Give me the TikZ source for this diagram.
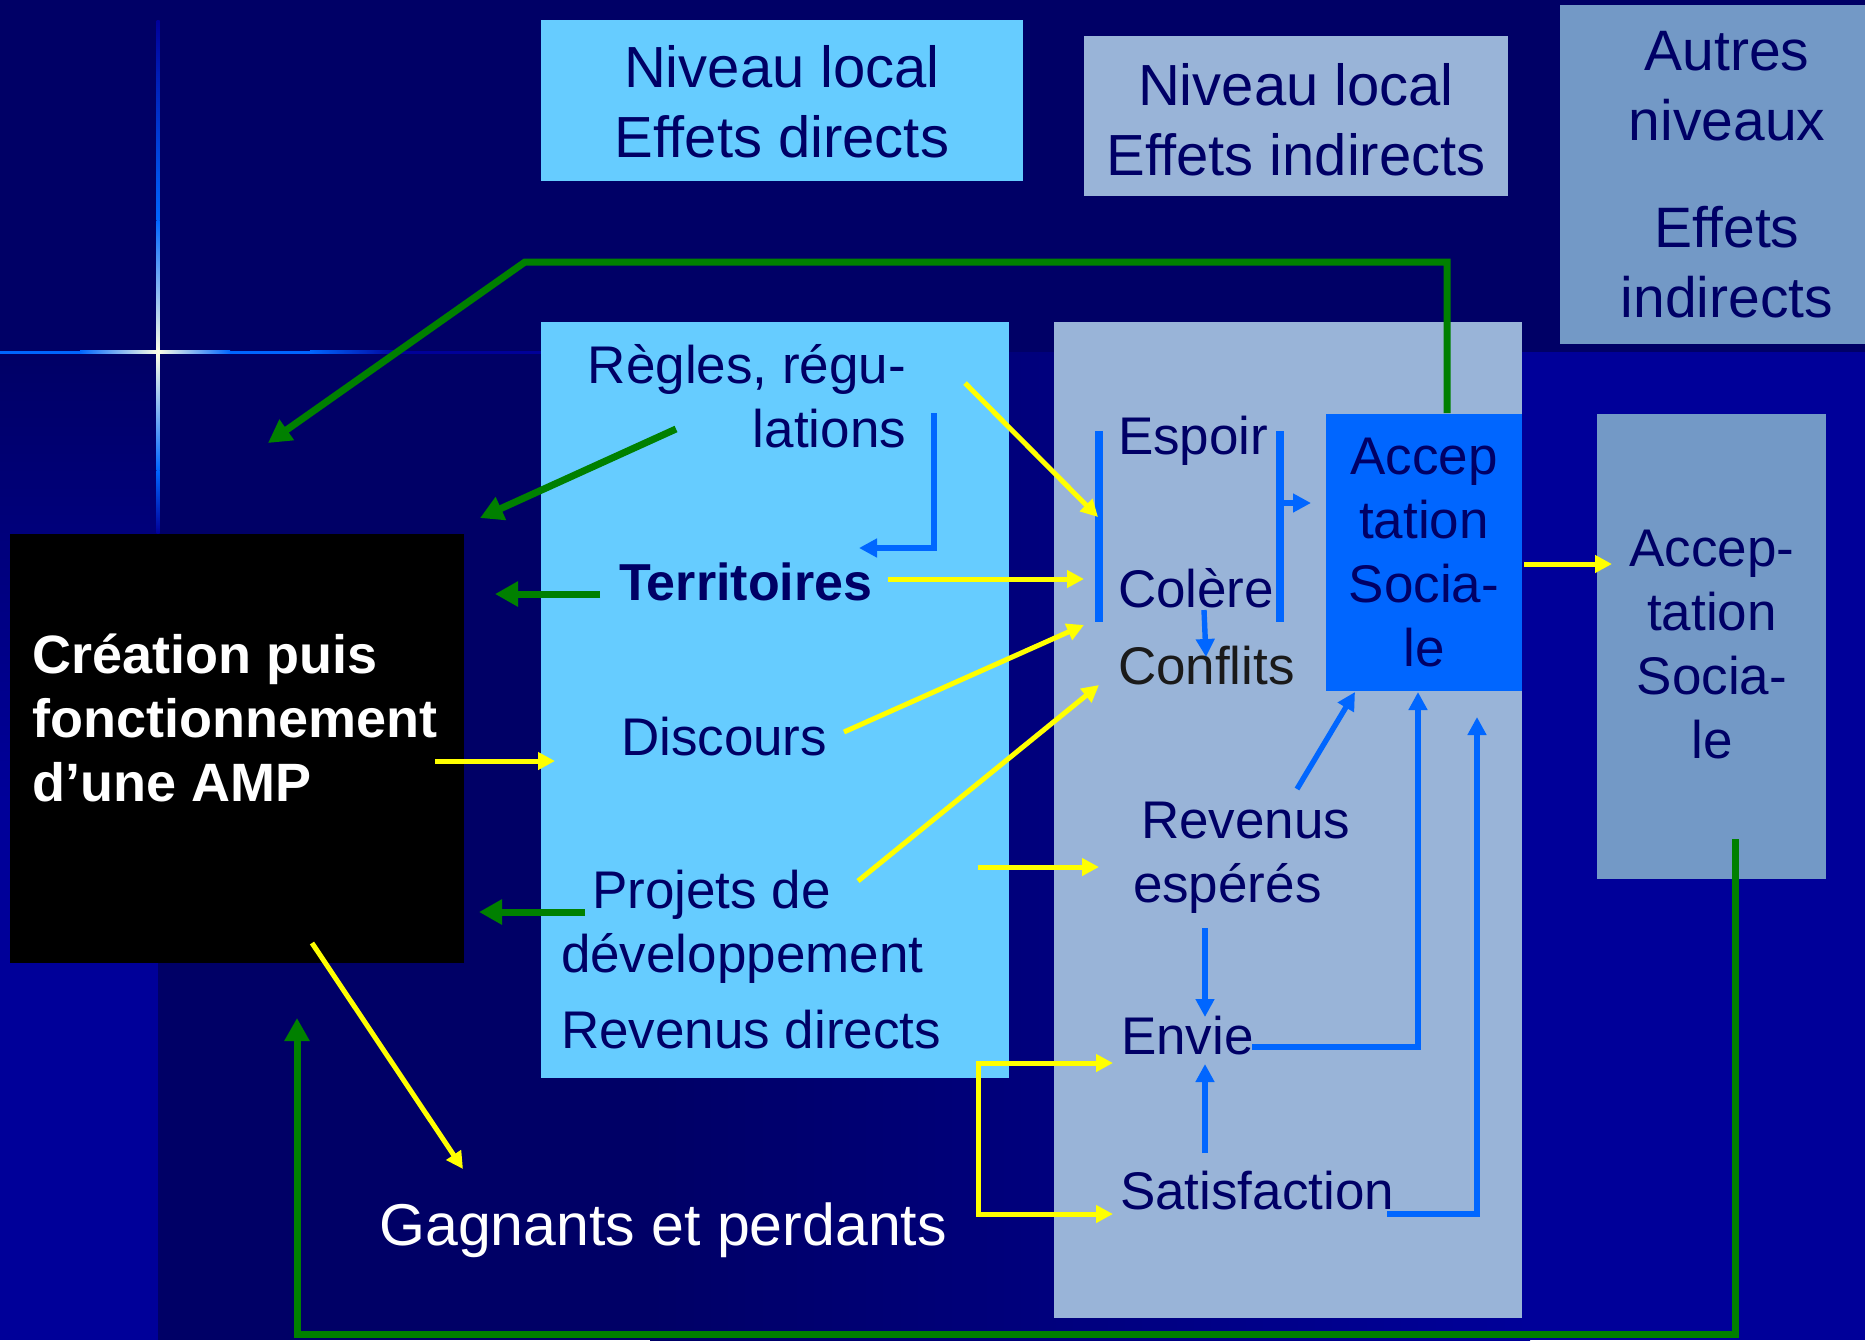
\documentclass[tikz,border=0pt]{standalone}
\usepackage{fontspec}
\setmainfont{Liberation Sans}
\usetikzlibrary{arrows.meta}
\definecolor{bgdark}{HTML}{000066}
\definecolor{bglight}{HTML}{000099}
\definecolor{lbfill}{HTML}{66CCFF}
\definecolor{grayfill}{HTML}{99B4D8}
\definecolor{midfill}{HTML}{7399C6}
\definecolor{accfill}{HTML}{0066FF}
\definecolor{grn}{HTML}{008000}
\definecolor{yel}{HTML}{FFFF00}
\definecolor{blu}{HTML}{0066FF}
\definecolor{navytext}{HTML}{000066}
\definecolor{darktext}{HTML}{1A1A1A}
\definecolor{starw}{HTML}{FFFFE6}
\newcommand\mlines[2]{\begin{tabular}[t]{@{}#1@{}}#2\end{tabular}}
\begin{document}
\begin{tikzpicture}[x=0.5pt,y=-0.5pt,
  box/.style={inner sep=0pt, outer sep=0pt, anchor=north west, draw=none},
  txt/.style={inner sep=0pt, outer sep=0pt, text=navytext, font=\fontsize{26.5}{32}\selectfont},
  toptxt/.style={inner sep=0pt, outer sep=0pt, text=navytext, font=\fontsize{29}{35}\selectfont},
  garr/.style={draw=grn, line width=3.5pt, -{Triangle[length=11.5pt,width=12pt]}},
  yarr/.style={draw=yel, line width=2.5pt, -{Triangle[length=8.5pt,width=8.5pt]}},
  yarrs/.style={draw=yel, line width=2.5pt, {Triangle[length=8.5pt,width=8.5pt]}-{Triangle[length=8.5pt,width=8.5pt]}},
  barr/.style={draw=blu, line width=2.7pt, -{Triangle[length=9pt,width=9pt]}},
  barline/.style={draw=blu, line width=4pt},
]
\useasboundingbox (0,0) rectangle (1865,1340);
% background
\fill[bgdark] (0,0) rectangle (1865,1340);
\shade[top color=bgdark, bottom color=bglight] (0,352) rectangle (158,800);
\fill[bglight] (0,800) rectangle (158,1340);
\shade[left color=bgdark, right color=bglight] (650,352) rectangle (1530,1340);
\fill[bglight] (1530,352) rectangle (1865,1340);
% star
\shade[top color=bglight, bottom color=blu] (156.5,20) rectangle (159.5,220);
\shade[top color=blu, bottom color=starw] (156.5,220) rectangle (159.5,352);
\shade[top color=starw, bottom color=blu] (156.5,352) rectangle (159.5,470);
\shade[top color=blu, bottom color=bglight] (156.5,470) rectangle (159.5,533);
\fill[blu] (0,350.5) rectangle (80,353.5);
\shade[left color=blu, right color=starw] (80,350.5) rectangle (158,353.5);
\shade[left color=starw, right color=blu] (158,350.5) rectangle (230,353.5);
\fill[blu] (230,350.5) rectangle (310,353.5);
\shade[left color=blu, right color=bglight] (310,350.5) rectangle (400,353.5);
\fill[bglight] (400,350.5) rectangle (541,353.5);

% boxes
\node[box, fill=lbfill, minimum width=241pt, minimum height=80.5pt] (top1) at (541,20) {};
\node[box, fill=grayfill, minimum width=212pt, minimum height=80pt] (top2) at (1084,36) {};
\node[box, fill=midfill, minimum width=152.5pt, minimum height=169.5pt] (top3) at (1560,5) {};
\node[box, fill=lbfill, minimum width=234pt, minimum height=378pt] (direct) at (541,322) {};
\node[box, fill=grayfill, minimum width=234pt, minimum height=498pt] (indirect) at (1054,322) {};
\node[box, fill=accfill, minimum width=98pt, minimum height=138.5pt] (acc) at (1326,414) {};
\node[box, fill=midfill, minimum width=114.5pt, minimum height=232.5pt] (accr) at (1597,414) {};
\node[box, fill=black, minimum width=227pt, minimum height=214.5pt] (amp) at (10,534) {};

% box titles
\node[toptxt, anchor=base] (t1) at (782,87) {\mlines{c}{Niveau local\\Effets directs}};
\node[toptxt, anchor=base] (t2) at (1296,105) {\mlines{c}{Niveau local\\Effets indirects}};
\node[inner sep=0pt, text=navytext, font=\fontsize{28.5}{35}\selectfont, anchor=base] (t3) at (1727,70)
  {\mlines{c}{Autres\\niveaux\\[18.5pt]Effets\\indirects}};

% texts
\node[inner sep=0pt, text=white, font=\bfseries\fontsize{27}{32}\selectfont, anchor=base west] (ampt) at (32,673)
  {\mlines{l}{Création puis\\fonctionnement\\d’une AMP}};
\node[txt, anchor=base east] (regles) at (906,383) {\mlines{r}{Règles, régu-\\lations}};
\node[txt, font=\bfseries\fontsize{26}{32}\selectfont, anchor=base west] (terr) at (619,600) {Territoires};
\node[txt, anchor=base west] (disc) at (621,755) {Discours};
\node[txt, anchor=base west] (proj) at (561,908) {\mlines{l}{\hspace{15.5pt}Projets de\\développement\\[6pt]Revenus directs}};
\node[inner sep=0pt, text=white, font=\fontsize{29.5}{35}\selectfont, anchor=base west] (gagn) at (379,1245) {Gagnants et perdants};
\node[txt, anchor=base west] (espoir) at (1118,454) {Espoir};
\node[txt, anchor=base west] (colere) at (1118,607) {Colère};
\node[txt, text=darktext, anchor=base west] (confl) at (1118,684) {Conflits};
\node[txt, anchor=base west] (reves) at (1133,838) {\mlines{l}{\hspace{4pt}Revenus\\espérés}};
\node[txt, anchor=base west] (envie) at (1121,1054) {Envie};
\node[txt, anchor=base west] (satis) at (1120,1209) {Satisfaction};
\node[txt, anchor=base] (acct) at (1424,474) {\mlines{c}{Accep\\tation\\Socia-\\le}};
\node[txt, anchor=base] (accrt) at (1712,566) {\mlines{c}{Accep-\\tation\\Socia-\\le}};

% bars
\coordinate (barL1) at (1099,431); \coordinate (barL2) at (1099,622);
\coordinate (barR1) at (1280,431); \coordinate (barR2) at (1280,622);
\draw[barline] (barL1) -- (barL2);
\draw[barline] (barR1) -- (barR2);

% green connectors
\draw[garr] (1447,413) -- (1447,262) -- (525,262) -- (268,443);
\draw[garr] (676,429) -- (480,518);
\draw[garr] (600,594) -- (495,594);
\draw[garr] (585,912) -- (479,912);
\draw[garr] (1735,839) -- (1735,1334) -- (297,1334) -- (297,1018);

% yellow connectors
\draw[yarr] (435,761) -- (555,761);
\draw[yarr] (312,943) -- (463,1169);
\draw[yarr] (965,383) -- (1098,517);
\draw[yarr] (888,579) -- (1084,579);
\draw[yarr] (844,732) -- (1084,625);
\draw[yarr] (858,881) -- (1099,685);
\draw[yarr] (978,867) -- (1099,867);
\draw[yarrs] (1113,1063) -- (978,1063) -- (978,1214) -- (1113,1214);
\draw[yarr] (1524,564) -- (1612,564);

% blue connectors
\draw[barr] (934,413) -- (934,548) -- (859,548);
\draw[barr] (1280,503) -- (1311,503);
\draw[barr] (1204,610) -- (1206,657);
\draw[barr] (1297,789) -- (1355,692);
\draw[barr] (1252,1047) -- (1418,1047) -- (1418,692);
\draw[barr] (1387,1214) -- (1477,1214) -- (1477,717);
\draw[barr] (1205,928) -- (1205,1017);
\draw[barr] (1205,1153) -- (1205,1064);
\end{tikzpicture}
\end{document}
